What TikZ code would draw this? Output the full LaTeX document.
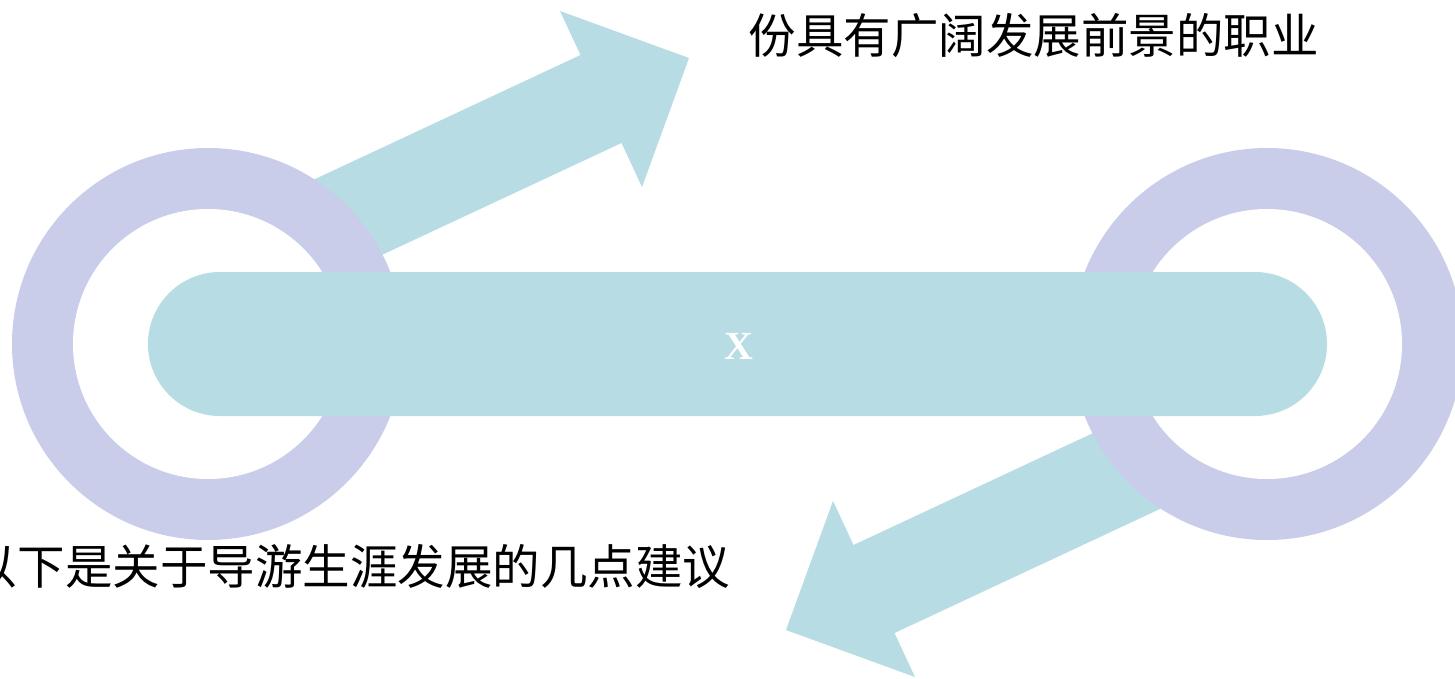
\documentclass[tikz,border=0pt]{standalone}
\usepackage{fontspec}
\newfontfamily\cjk{Noto Sans CJK SC}
\newfontfamily\xfont{Liberation Serif}
\definecolor{barblue}{RGB}{183,220,228}
\definecolor{ringpurple}{RGB}{201,205,233}
\begin{document}
\begin{tikzpicture}[x=1pt,y=-1pt,
  arrowshape/.style={fill=barblue, draw=none},
  ringouter/.style={circle, fill=ringpurple, draw=none, minimum size=392pt, inner sep=0pt},
  ringinner/.style={circle, fill=white, draw=none, minimum size=270pt, inner sep=0pt},
  barbox/.style={rounded rectangle, fill=barblue, draw=none},
  cntext/.style={font=\cjk\fontsize{47.5}{57}\selectfont, inner sep=0pt, text=black}]
\useasboundingbox (0,0) rectangle (1455,678);
\clip (0,0) rectangle (1455,678);
% arrows (behind rings)
\fill[arrowshape] (229.5,219) -- (580.5,55) -- (560,11) -- (689,58) -- (642,187) -- (621.5,143) -- (270.5,307) -- cycle;
\fill[arrowshape] (1245.5,469) -- (894.5,633) -- (915,677) -- (786,630) -- (833,501) -- (853.5,545) -- (1204.5,381) -- cycle;
% rings
\node[ringouter] (lring) at (208,344) {};
\node[ringinner] (lhole) at (lring.center) {};
\node[ringouter] (rring) at (1267,344) {};
\node[ringinner] (rhole) at (rring.center) {};
% bar
\fill[barblue, rounded corners=72pt] (148,272) rectangle (1327,416);
\node[inner sep=0pt, text=white, font=\xfont\bfseries\fontsize{40}{48}\selectfont] (x) at (739,346) {X};
% texts
\node[cntext] (top) at (1033.5,36) {份具有广阔发展前景的职业};
\node[cntext] (bottom) at (350,567) {以下是关于导游生涯发展的几点建议};
\end{tikzpicture}
\end{document}
